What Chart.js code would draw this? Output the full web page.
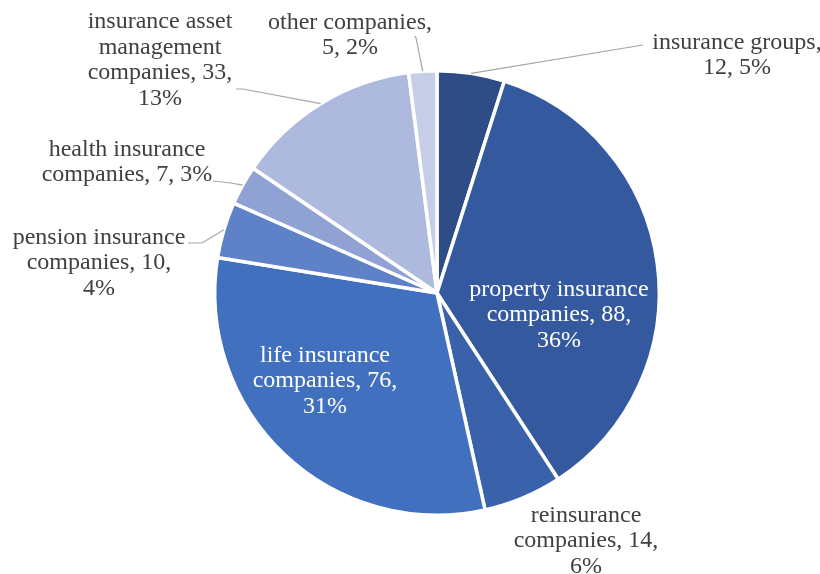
<!DOCTYPE html>
<html>
<head>
<meta charset="utf-8">
<script src="https://cdn.jsdelivr.net/npm/chart.js@4/dist/chart.umd.min.js"></script>
<style>
  html, body { margin: 0; padding: 0; background: #fff; }
  canvas { display: block; }
</style>
</head>
<body>
<canvas id="pie" width="820" height="574"></canvas>
<script>
const categories = [
  "insurance groups",
  "property insurance companies",
  "reinsurance companies",
  "life insurance companies",
  "pension insurance companies",
  "health insurance companies",
  "insurance asset management companies",
  "other companies"
];
const counts = [12, 88, 14, 76, 10, 7, 33, 5];
const sliceColors = ["#2E4D86", "#34599F", "#3A62AA", "#4170BF", "#5E81C8", "#8FA2D3", "#ADBADD", "#C6CEE7"];

// label placement: offsets in px from the pie centre, words per line, leader points
const labelLayout = [
  { dx: 300, dy: -238, words: [2, 2], inside: false, leader: [[-94, -10], [-94, -10]] },
  { dx: 122, dy: 22, words: [2, 2, 1], inside: true },
  { dx: 149, dy: 248, words: [1, 2, 1], inside: false },
  { dx: -112, dy: 88, words: [2, 2, 1], inside: true },
  { dx: -338, dy: -30, words: [2, 2, 1], inside: false, leader: [[89, -20], [103, -20]] },
  { dx: -310, dy: -131, words: [2, 3], inside: false, leader: [[86, 19], [104, 21]] },
  { dx: -277, dy: -233, words: [2, 1, 2, 1], inside: false, leader: [[76, 29], [83, 29]] },
  { dx: -87, dy: -258, words: [2, 2], inside: false, leader: [[65, 1], [66, 3]] }
];

const total = counts.reduce((a, b) => a + b, 0);
const FONT = '24px "Liberation Serif", "Times New Roman", serif';
const LINE_H = 25.5;

function splitLines(text, counts) {
  const words = text.split(" ");
  const lines = [];
  let k = 0;
  counts.forEach((n) => {
    lines.push(words.slice(k, k + n).join(" "));
    k += n;
  });
  return lines;
}

const pieLabels = {
  id: "pieLabels",
  afterDatasetsDraw(chart) {
    const ctx = chart.ctx;
    const meta = chart.getDatasetMeta(0);
    ctx.save();
    ctx.font = FONT;
    ctx.textAlign = "center";
    ctx.textBaseline = "middle";
    meta.data.forEach((arc, i) => {
      const lay = labelLayout[i];
      const v = counts[i];
      const pct = Math.round((v / total) * 100);
      const text = categories[i] + ", " + v + ", " + pct + "%";
      const cx = arc.x + lay.dx;
      const cy = arc.y + lay.dy;

      if (lay.leader) {
        const mid = (arc.startAngle + arc.endAngle) / 2;
        const ax = arc.x + Math.cos(mid) * arc.outerRadius;
        const ay = arc.y + Math.sin(mid) * arc.outerRadius;
        ctx.strokeStyle = "#A6A6A6";
        ctx.lineWidth = 1.2;
        ctx.beginPath();
        ctx.moveTo(cx + lay.leader[0][0], cy + lay.leader[0][1]);
        ctx.lineTo(cx + lay.leader[1][0], cy + lay.leader[1][1]);
        ctx.lineTo(ax, ay);
        ctx.stroke();
      }

      const lines = splitLines(text, lay.words);
      ctx.fillStyle = lay.inside ? "#FFFFFF" : "#404040";
      const top = cy - ((lines.length - 1) * LINE_H) / 2;
      lines.forEach((ln, k) => ctx.fillText(ln, cx, top + k * LINE_H));
    });
    ctx.restore();
  }
};

new Chart(document.getElementById("pie").getContext("2d"), {
  type: "pie",
  data: {
    labels: categories,
    datasets: [
      {
        data: counts,
        backgroundColor: sliceColors,
        borderColor: "#FFFFFF",
        borderWidth: 3.5
      }
    ]
  },
  options: {
    responsive: false,
    animation: false,
    layout: { padding: { top: 69, bottom: 57, left: 213, right: 159 } },
    plugins: {
      legend: { display: false },
      tooltip: { enabled: false }
    }
  },
  plugins: [pieLabels]
});
</script>
</body>
</html>
